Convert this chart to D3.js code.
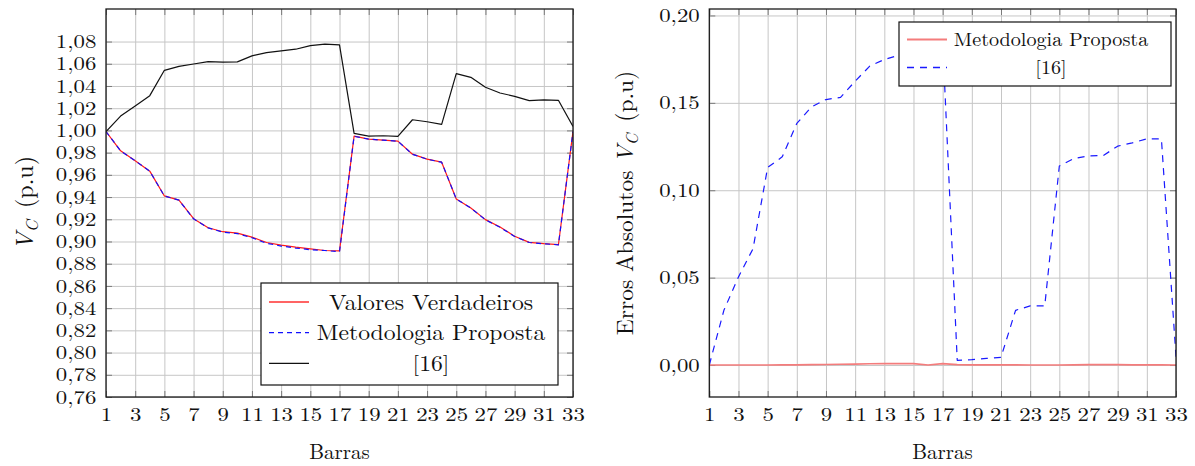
<!DOCTYPE html>
<html>
<head>
<meta charset="utf-8">
<script src="https://cdn.jsdelivr.net/npm/d3@7"></script>
<style>
body { margin: 0; background: #fff; }
.sx { transform-box: fill-box; transform-origin: center; transform: scaleX(1.2); }
.sx2 { transform-box: fill-box; transform-origin: center; transform: scaleX(1.1); }
.sx3 { transform-box: fill-box; transform-origin: center; transform: scaleX(1.06); }
</style>
</head>
<body>
<svg id="chart" width="1195" height="466"></svg>
<script>
// barras do sistema
var barras = [1, 2, 3, 4, 5, 6, 7, 8, 9, 10, 11, 12, 13, 14, 15, 16, 17,
    18, 19, 20, 21, 22, 23, 24, 25, 26, 27, 28, 29, 30, 31, 32, 33];
var xTicks = [1, 3, 5, 7, 9, 11, 13, 15, 17, 19, 21, 23, 25, 27, 29, 31, 33];

// grafico da esquerda: tensoes
var vVerdadeiros = [0.9990, 0.9816, 0.9726, 0.9633, 0.9410, 0.9373, 0.9205, 0.9124, 0.9088, 0.9075, 0.9039,
    0.8991, 0.8967, 0.8949, 0.8934, 0.8919, 0.8916, 0.9949, 0.9922, 0.9913, 0.9904, 0.9786, 0.9741,
    0.9714, 0.9383, 0.9302, 0.9197, 0.9131, 0.9047, 0.8992, 0.8980, 0.8971, 0.9990];
var vProposta = [0.9990, 0.9816, 0.9726, 0.9633, 0.9410, 0.9372, 0.9204, 0.9122, 0.9085, 0.9071, 0.9034,
    0.8984, 0.8959, 0.8941, 0.8926, 0.8919, 0.8908, 0.9947, 0.9921, 0.9912, 0.9903, 0.9785, 0.9741,
    0.9714, 0.9383, 0.9301, 0.9195, 0.9128, 0.9045, 0.8991, 0.8979, 0.8970, 0.9990];
var vRef16 = [0.9990, 1.0129, 1.0220, 1.0313, 1.0541, 1.0577, 1.0598, 1.0620, 1.0614, 1.0617, 1.0671,
    1.0701, 1.0716, 1.0731, 1.0764, 1.0776, 1.0770, 0.9973, 0.9949, 0.9952, 0.9946, 1.0096, 1.0078,
    1.0054, 1.0511, 1.0478, 1.0388, 1.0337, 1.0307, 1.0268, 1.0274, 1.0271, 1.0035];
var vTicks = [0.76, 0.78, 0.80, 0.82, 0.84, 0.86, 0.88, 0.90, 0.92, 0.94, 0.96, 0.98,
    1.00, 1.02, 1.04, 1.06, 1.08];

// grafico da direita: erros absolutos
var eProposta = [0, 0, 0, 0, 0, 0.0001, 0.0001, 0.0002, 0.0003, 0.0004, 0.0005, 0.0007, 0.0008,
    0.0008, 0.0008, 0.0000, 0.0008, 0.0002, 0.0001, 0.0001, 0.0001, 0.0001, 0, 0, 0, 0.0001,
    0.0002, 0.0003, 0.0002, 0.0001, 0.0001, 0.0001, 0];
var eRef16 = [0, 0.0313, 0.0504, 0.0666, 0.1130, 0.1191, 0.1382, 0.1477, 0.1519, 0.1531, 0.1624,
    0.1710, 0.1748, 0.1773, 0.1830, 0.1857, 0.1854, 0.0027, 0.0031, 0.0038, 0.0044, 0.0313, 0.0338,
    0.0338, 0.1139, 0.1181, 0.1197, 0.1198, 0.1252, 0.1271, 0.1294, 0.1294, 0.0046];
var eTicks = [0, 0.05, 0.10, 0.15, 0.20];

var svg = d3.select("#chart");
var ptBR = d3.formatLocale({ decimal: ",", thousands: ".", grouping: [3], currency: ["R$", ""] });
var fmt = ptBR.format(".2f");

function panel(id, box, yDomain, yTicks) {
    var x = d3.scaleLinear().domain([1, 33]).range([box.left, box.right]);
    var y = d3.scaleLinear().domain(yDomain).range([box.bottom, box.top]);
    var w = box.right - box.left, h = box.bottom - box.top;
    var g = svg.append("g");

    g.append("clipPath").attr("id", id)
        .append("rect").attr("x", box.left).attr("y", box.top).attr("width", w).attr("height", h);

    // grid
    g.append("g").attr("transform", "translate(0," + box.bottom + ")")
        .call(d3.axisBottom(x).tickValues(xTicks).tickSize(-h).tickFormat(""))
        .call(s => s.select(".domain").remove())
        .selectAll("line").attr("stroke", "#c6c6c6").attr("stroke-width", 1);
    g.append("g").attr("transform", "translate(" + box.left + ",0)")
        .call(d3.axisLeft(y).tickValues(yTicks).tickSize(-w).tickFormat(""))
        .call(s => s.select(".domain").remove())
        .selectAll("line").attr("stroke", "#c6c6c6").attr("stroke-width", 1);

    // ticks para dentro nos quatro lados
    var bottom = g.append("g").attr("transform", "translate(0," + box.bottom + ")")
        .call(d3.axisBottom(x).tickValues(xTicks).tickSizeInner(-6).tickSizeOuter(0).tickPadding(11));
    g.append("g").attr("transform", "translate(0," + box.top + ")")
        .call(d3.axisTop(x).tickValues(xTicks).tickSizeInner(-6).tickSizeOuter(0).tickFormat(""));
    var left = g.append("g").attr("transform", "translate(" + box.left + ",0)")
        .call(d3.axisLeft(y).tickValues(yTicks).tickSizeInner(-6).tickSizeOuter(0).tickPadding(13).tickFormat(fmt));
    g.append("g").attr("transform", "translate(" + box.right + ",0)")
        .call(d3.axisRight(y).tickValues(yTicks).tickSizeInner(-6).tickSizeOuter(0).tickFormat(""));

    g.selectAll(".domain").remove();
    g.selectAll(".tick line").filter(function () { return this.getAttribute("stroke") == "currentColor"; })
        .attr("stroke", "#7a7a7a");
    bottom.selectAll("text").attr("class", "sx").style("font-size", "19px");
    left.selectAll("text").attr("class", "sx").style("font-size", "19px");

    var lines = g.append("g").attr("clip-path", "url(#" + id + ")");
    g.append("rect").attr("x", box.left).attr("y", box.top).attr("width", w).attr("height", h)
        .attr("fill", "none").attr("stroke", "#1a1a1a").attr("stroke-width", 1.3);

    return { x: x, y: y, g: g, lines: lines, box: box };
}

function plotLine(p, data, color, width, dash) {
    var line = d3.line()
        .x(function (d, i) { return p.x(barras[i]); })
        .y(function (d) { return p.y(d); });
    p.lines.append("path")
        .datum(data)
        .attr("fill", "none")
        .attr("stroke", color)
        .attr("stroke-width", width)
        .attr("stroke-dasharray", dash || null)
        .attr("stroke-linejoin", "round")
        .attr("d", line);
}

function legend(p, box, items, fontSize, cls, textX) {
    var lg = p.g.append("g");
    lg.append("rect").attr("x", box.x).attr("y", box.y).attr("width", box.w).attr("height", box.h)
        .attr("fill", "#fff").attr("stroke", "#111").attr("stroke-width", 1.2);
    items.forEach(function (it, i) {
        var cy = box.y + box.first + i * box.step;
        lg.append("line").attr("x1", box.x + 8).attr("x2", box.x + 48).attr("y1", cy).attr("y2", cy)
            .attr("stroke", it.color).attr("stroke-width", it.width).attr("stroke-dasharray", it.dash || null);
        lg.append("text").attr("class", cls).attr("x", textX).attr("y", cy).attr("dy", "0.35em")
            .attr("text-anchor", "middle").style("font-size", fontSize + "px").text(it.label);
    });
}

// painel esquerdo
var p1 = panel("clipA", { left: 106, right: 573, top: 9, bottom: 397 }, [0.76, 1.1093], vTicks);
plotLine(p1, vVerdadeiros, "#ff1a1a", 1.2);
plotLine(p1, vProposta, "#1010ff", 1.2, "5,4");
plotLine(p1, vRef16, "#111", 1.2);
legend(p1, { x: 261, y: 283, w: 297, h: 102, first: 19, step: 30.7 }, [
    { label: "Valores Verdadeiros", color: "#ff3030", width: 1.3 },
    { label: "Metodologia Proposta", color: "#1010ff", width: 1.3, dash: "5,4" },
    { label: "[16]", color: "#111", width: 1.3 }
], 21.5, "sx2", 431);

svg.append("text").attr("x", 339.5).attr("y", 459).attr("text-anchor", "middle")
    .style("font-size", "21px").text("Barras");
var yl1 = svg.append("g").attr("transform", "translate(33,203) rotate(-90)")
    .append("text").attr("text-anchor", "middle").style("font-size", "24px");
yl1.append("tspan").style("font-style", "italic").text("V");
yl1.append("tspan").style("font-style", "italic").style("font-size", "17px").attr("dy", 5).text("C");
yl1.append("tspan").attr("dy", -5).text("\u00a0(p.u)");

// painel direito
var p2 = panel("clipB", { left: 709.3, right: 1176, top: 9, bottom: 397 }, [-0.0183, 0.2037], eTicks);
plotLine(p2, eProposta, "#f47c7c", 1.6);
plotLine(p2, eRef16, "#1a1aff", 1.2, "7,6");
legend(p2, { x: 899, y: 22, w: 272, h: 64, first: 17.5, step: 28 }, [
    { label: "Metodologia Proposta", color: "#f47c7c", width: 2 },
    { label: "[16]", color: "#1a1aff", width: 1.3, dash: "7,6" }
], 19, "sx3", 1051);

svg.append("text").attr("x", 942.5).attr("y", 459).attr("text-anchor", "middle")
    .style("font-size", "21px").text("Barras");
var yl2 = svg.append("g").attr("transform", "translate(633,203) rotate(-90)")
    .append("text").attr("text-anchor", "middle").style("font-size", "23.5px");
yl2.append("tspan").text("Erros Absolutos ");
yl2.append("tspan").style("font-style", "italic").text("V");
yl2.append("tspan").style("font-style", "italic").style("font-size", "16.5px").attr("dy", 5).text("C");
yl2.append("tspan").attr("dy", -5).text("\u00a0(p.u)");

// fonte do LaTeX
svg.selectAll("text")
    .style("font-family", "'Latin Modern Roman', 'Liberation Serif', serif")
    .style("fill", "#111");
</script>
</body>
</html>
